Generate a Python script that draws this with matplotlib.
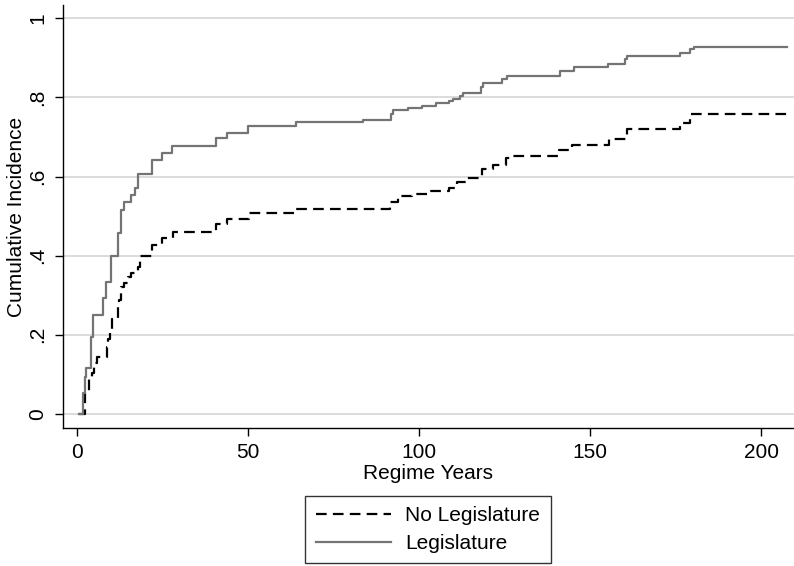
import matplotlib
matplotlib.use("Agg")
from matplotlib import pyplot as plt

plt.rcParams["font.family"] = ["Liberation Sans", "DejaVu Sans"]

# step data (regime years, cumulative incidence)
leg_years = [0.8, 1.9, 2.4, 2.7, 4.1, 4.7, 7.7, 8.6, 9.9, 12.1, 13.0, 13.8,
             15.9, 17.1, 17.9, 22.0, 24.9, 27.9, 40.7, 44.0, 50.1, 64.1,
             83.7, 91.8, 92.5, 96.9, 100.9, 105.1, 108.9, 109.9, 112.1,
             113.0, 118.1, 118.8, 124.3, 125.8, 141.2, 145.2, 155.1, 160.3,
             160.9, 176.2, 179.3, 180.3, 207.6]
leg_inc = [0, 0.053, 0.093, 0.116, 0.194, 0.25, 0.293, 0.333, 0.4, 0.457,
           0.515, 0.535, 0.553, 0.57, 0.606, 0.641, 0.659, 0.677, 0.697,
           0.71, 0.727, 0.737, 0.742, 0.757, 0.768, 0.772, 0.779, 0.785,
           0.791, 0.797, 0.803, 0.81, 0.827, 0.835, 0.846, 0.854, 0.866,
           0.877, 0.885, 0.896, 0.905, 0.912, 0.921, 0.928, 0.928]

noleg_years = [0.8, 2.4, 3.6, 4.6, 5.0, 5.9, 8.9, 9.2, 9.7, 10.2, 12.1, 12.4,
               13.0, 13.8, 15.0, 15.9, 17.9, 18.5, 22.0, 24.9, 28.2, 40.7,
               43.9, 50.2, 63.8, 91.6, 94.0, 98.0, 102.3, 108.7, 111.1,
               114.0, 118.3, 121.7, 125.3, 126.7, 141.0, 144.7, 155.4,
               160.8, 176.4, 179.3, 207.6]
noleg_inc = [0, 0.053, 0.093, 0.104, 0.13, 0.145, 0.17, 0.19, 0.215, 0.24,
             0.275, 0.288, 0.32, 0.33, 0.345, 0.356, 0.371, 0.398, 0.427,
             0.444, 0.46, 0.479, 0.492, 0.508, 0.518, 0.536, 0.55, 0.556,
             0.564, 0.572, 0.587, 0.595, 0.62, 0.629, 0.646, 0.652, 0.667,
             0.679, 0.696, 0.721, 0.734, 0.759, 0.759]

x_ticks = [0, 50, 100, 150, 200]
y_ticks = [0, 0.2, 0.4, 0.6, 0.8, 1.0]
y_labels = ["0", ".2", ".4", ".6", ".8", "1"]

fs = 15

fig = plt.figure(figsize=(7.94, 5.66), dpi=100)
ax = fig.add_axes([0.079, 0.244, 0.921, 0.747])

ax.plot(noleg_years, noleg_inc, drawstyle="steps-post", color="black",
        lw=1.6, dashes=(4.8, 2.8), label="No Legislature")
ax.plot(leg_years, leg_inc, drawstyle="steps-post", color="#747474",
        lw=1.6, label="Legislature")

ax.set_xlim(-4.1, 209.6)
ax.set_ylim(-0.035, 1.033)
ax.set_xticks(x_ticks)
ax.set_yticks(y_ticks)
ax.set_yticklabels(y_labels, rotation=90, va="center")
ax.tick_params(axis="both", labelsize=fs, length=6, width=1, direction="out", pad=5)
ax.yaxis.grid(True, color="#d6d6d6", lw=1.2)
ax.set_axisbelow(True)
for s in ["top", "right"]:
    ax.spines[s].set_visible(False)
for s in ["left", "bottom"]:
    ax.spines[s].set_linewidth(1)

ax.set_xlabel("Regime Years", fontsize=fs, labelpad=1)
ax.set_ylabel("Cumulative Incidence", fontsize=fs, labelpad=2)

fig.legend(loc="upper center", bbox_to_anchor=(0.539, 0.142), ncol=1,
           fontsize=fs, frameon=True, fancybox=False, edgecolor="black",
           handlelength=3.6, borderpad=0.5, labelspacing=0.4, handletextpad=0.7)

fig.savefig("out.png", dpi=100)
